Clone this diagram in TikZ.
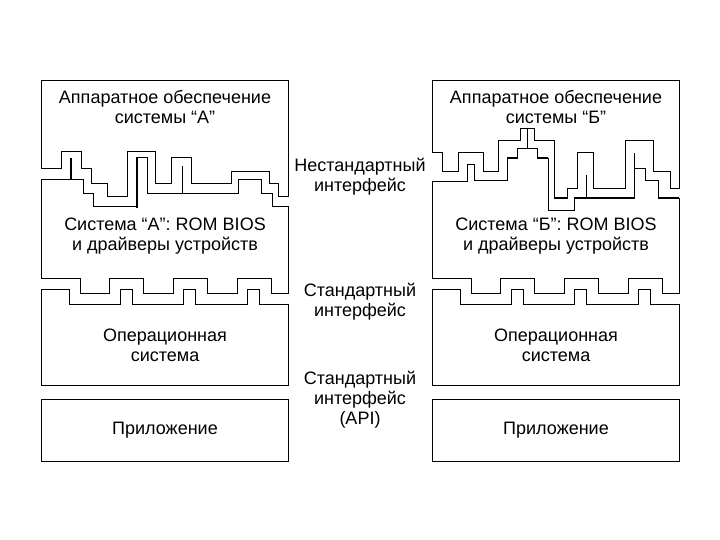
\documentclass[tikz,border=0pt]{standalone}
\usepackage{fontspec}
\setmainfont{Liberation Sans}
\newcommand\boxLineWidth{0.9pt}
\newcommand\wireLineWidth{2pt}
\newcommand\labelFont{\fontsize{18}{20}\selectfont}
\tikzset{
    layertext/.style={align=center, font=\labelFont, inner sep=0pt},
    layerline/.style={line width=\boxLineWidth, black},
    wire/.style={line width=\wireLineWidth, black},
}
\begin{document}
\begin{tikzpicture}[x=1pt, y=-1pt]
    \useasboundingbox (0,0) rectangle (720,540);

    % left column: system A
    \draw[layerline] (41,168) -- (41,80) -- (288,80) -- (288,196) -- (278,196) -- (278,183) -- (269,183) -- (269,171)
        -- (231,171) -- (231,183) -- (191,183) -- (191,157) -- (171,157) -- (171,183) -- (155,183) -- (155,151)
        -- (127,151) -- (127,196) -- (107,196) -- (107,183) -- (91,183) -- (91,168) -- (81,168) -- (81,151)
        -- (61,151) -- (61,168) -- cycle;
    \draw[layerline] (41,179) -- (83,179) -- (83,193) -- (93,193) -- (93,206) -- (137,206) -- (137,157) -- (147,157)
        -- (147,193) -- (238,193) -- (238,179) -- (261,179) -- (261,193) -- (272,193) -- (272,206) -- (288,206)
        -- (288,293) -- (271,293) -- (271,278) -- (237,278) -- (237,293) -- (207,293) -- (207,278) -- (173,278)
        -- (173,293) -- (143,293) -- (143,278) -- (109,278) -- (109,293) -- (80,293) -- (80,278) -- (41,278)
        -- cycle;
    \draw[layerline] (41,289) -- (69,289) -- (69,304) -- (120,304) -- (120,289) -- (132,289) -- (132,304) -- (183,304)
        -- (183,289) -- (195,289) -- (195,304) -- (247,304) -- (247,289) -- (259,289) -- (259,304) -- (288,304)
        -- (288,385) -- (41,385) -- cycle;
    \draw[layerline] (41,399) rectangle (288,461);
    \draw[wire] (71,158) -- (71,179);
    \draw[wire] (137,157) -- (137,208);
    \draw[layerline] (182,166) -- (182,193);

    \node[layertext] (hwA) at (165,107) {Аппаратное обеспечение\\системы “А”};
    \node[layertext] (biosA) at (165,236) {Система “А”: ROM BIOS\\и драйверы устройств};
    \node[layertext] (osA) at (165,345) {Операционная\\система};
    \node[layertext] (appA) at (165,430) {Приложение};

    % right column: system B
    \draw[layerline] (432,152) -- (432,80) -- (679,80) -- (679,188) -- (670,188) -- (670,171) -- (653,171) -- (653,140)
        -- (625,140) -- (625,188) -- (593,188) -- (593,152) -- (577,152) -- (577,188) -- (567,188) -- (567,198)
        -- (554,198) -- (554,140) -- (534,140) -- (534,128) -- (520,128) -- (520,140) -- (498,140) -- (498,171)
        -- (483,171) -- (483,152) -- (458,152) -- (458,171) -- (442,171) -- (442,152) -- cycle;
    \draw[layerline] (432,181) -- (467,181) -- (467,164) -- (474,164) -- (474,180) -- (507,180) -- (507,158)
        -- (517,158) -- (517,148) -- (537,148) -- (537,158) -- (548,158) -- (548,210) -- (574,210) -- (574,198)
        -- (634,198) -- (634,168) -- (645,168) -- (645,180) -- (658,180) -- (658,198) -- (679,198)
        -- (679,293) -- (662,293) -- (662,278) -- (628,278) -- (628,293) -- (598,293) -- (598,278) -- (564,278)
        -- (564,293) -- (534,293) -- (534,278) -- (500,278) -- (500,293) -- (471,293) -- (471,278) -- (432,278)
        -- cycle;
    \draw[layerline] (432,289) -- (460,289) -- (460,304) -- (511,304) -- (511,289) -- (523,289) -- (523,304) -- (574,304)
        -- (574,289) -- (586,289) -- (586,304) -- (638,304) -- (638,289) -- (650,289) -- (650,304) -- (679,304)
        -- (679,385) -- (432,385) -- cycle;
    \draw[layerline] (432,399) rectangle (679,461);
    \draw[wire] (507,158) -- (517,158);
    \draw[wire] (537,158) -- (548,158);
    \draw[wire] (554,198) -- (567,198);
    \draw[wire] (574,198) -- (634,198);
    \draw[wire] (658,198) -- (679,198);
    \draw[layerline] (527,128) -- (527,148);
    \draw[layerline] (586,175) -- (586,198);
    \draw[layerline] (634,153) -- (634,168);

    \node[layertext] (hwB) at (556,107) {Аппаратное обеспечение\\системы “Б”};
    \node[layertext] (biosB) at (556,236) {Система “Б”: ROM BIOS\\и драйверы устройств};
    \node[layertext] (osB) at (556,345) {Операционная\\система};
    \node[layertext] (appB) at (556,430) {Приложение};

    % interface labels
    \node[layertext] (ifNonStd) at (360,177) {Нестандартный\\интерфейс};
    \node[layertext] (ifStd) at (360,302) {Стандартный\\интерфейс};
    \node[layertext] (ifApi) at (360,400) {Стандартный\\интерфейс\\(API)};
\end{tikzpicture}
\end{document}
